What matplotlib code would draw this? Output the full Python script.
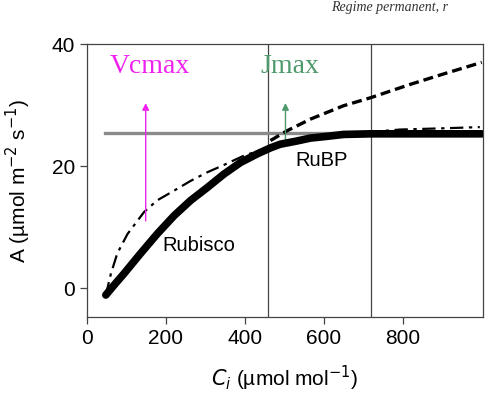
import matplotlib.pyplot as plt

plt.rcParams['font.family'] = ['Liberation Sans', 'DejaVu Sans']

# limiting assimilation (Rubisco then RuBP), thick line
ci_lim = [48, 70, 94, 136, 178, 221, 263, 305, 347, 389, 431, 465,
          490, 530, 566, 610, 650, 718, 800, 900, 1000]
a_lim = [-1.1, 0.6, 2.4, 5.7, 8.9, 11.9, 14.4, 16.5, 18.7, 20.6, 22.0, 23.0,
         23.6, 24.1, 24.6, 24.9, 25.2, 25.3, 25.3, 25.3, 25.3]

# dash-dot curve
ci_dd = [48, 61, 77, 103, 145, 178, 221, 263, 305, 347, 397, 448, 500,
         600, 700, 793, 900, 995]
a_dd = [-1.1, 2.4, 5.7, 8.9, 12.5, 14.4, 16.0, 17.6, 19.0, 20.2, 21.7, 22.8, 23.6,
        24.8, 25.5, 26.0, 26.2, 26.4]

# dashed curve
ci_dash = [465, 507, 566, 650, 718, 819, 903, 1000]
a_dash = [24.2, 25.8, 27.7, 29.9, 31.2, 33.4, 35.1, 37.0]

a_flat = 25.5
ci_lines = [460, 720]

fig = plt.figure(figsize=(5.02, 3.97), dpi=100)
ax = fig.add_axes([0.173, 0.2015, 0.789, 0.6875])

ax.plot([46, 1000], [a_flat, a_flat], color='#8a8a8a', lw=2.4, zorder=2)
for c in ci_lines:
    ax.axvline(c, color='#444444', lw=0.9, zorder=1)

ax.plot(ci_dd, a_dd, color='black', lw=1.6, linestyle=(0, (6, 2.5, 1.5, 2.5)), zorder=3)
ax.plot(ci_dash, a_dash, color='black', lw=2.4, linestyle=(0, (3, 1.5)), zorder=3)
ax.plot(ci_lim, a_lim, color='black', lw=5.5, solid_capstyle='round',
        solid_joinstyle='round', zorder=4)

# arrows
ax.annotate('', xy=(149, 30.8), xytext=(149, 10.6),
            arrowprops=dict(arrowstyle='-|>', color='#ee22ee', lw=1.0, mutation_scale=10))
ax.annotate('', xy=(503, 30.8), xytext=(503, 23.6),
            arrowprops=dict(arrowstyle='-|>', color='#4e9a6c', lw=1.0, mutation_scale=10))

ax.text(160, 36.3, 'Vcmax', color='#ee22ee', fontsize=20, family='Liberation Serif',
        ha='center', va='center')
ax.text(515, 36.3, 'Jmax', color='#4e9a6c', fontsize=20, family='Liberation Serif',
        ha='center', va='center')
ax.text(192, 7.0, 'Rubisco', fontsize=14.5, ha='left', va='center')
ax.text(527, 20.9, 'RuBP', fontsize=14.5, ha='left', va='center')

ax.set_xlim(0, 1003)
ax.set_ylim(-4.7, 40)
ax.set_xticks([0, 200, 400, 600, 800])
ax.set_yticks([0, 20, 40])
ax.tick_params(labelsize=15, direction='out', length=5, width=0.9, color='#444444')
for s in ax.spines.values():
    s.set_color('#444444')
    s.set_linewidth(0.9)

ax.set_xlabel(r'$C_i$ (µmol mol$^{-1}$)', fontsize=15)
ax.set_ylabel(r'A (µmol m$^{-2}$ s$^{-1}$)', fontsize=15, labelpad=4)
ax.xaxis.set_label_coords(0.5, -0.17)
ax.yaxis.set_label_coords(-0.135, 0.5)

fig.text(0.66, 0.997, 'Regime permanent, r', fontsize=10, family='Liberation Serif',
         style='italic', color='#333333', va='top')

fig.savefig('out.png', dpi=100)
